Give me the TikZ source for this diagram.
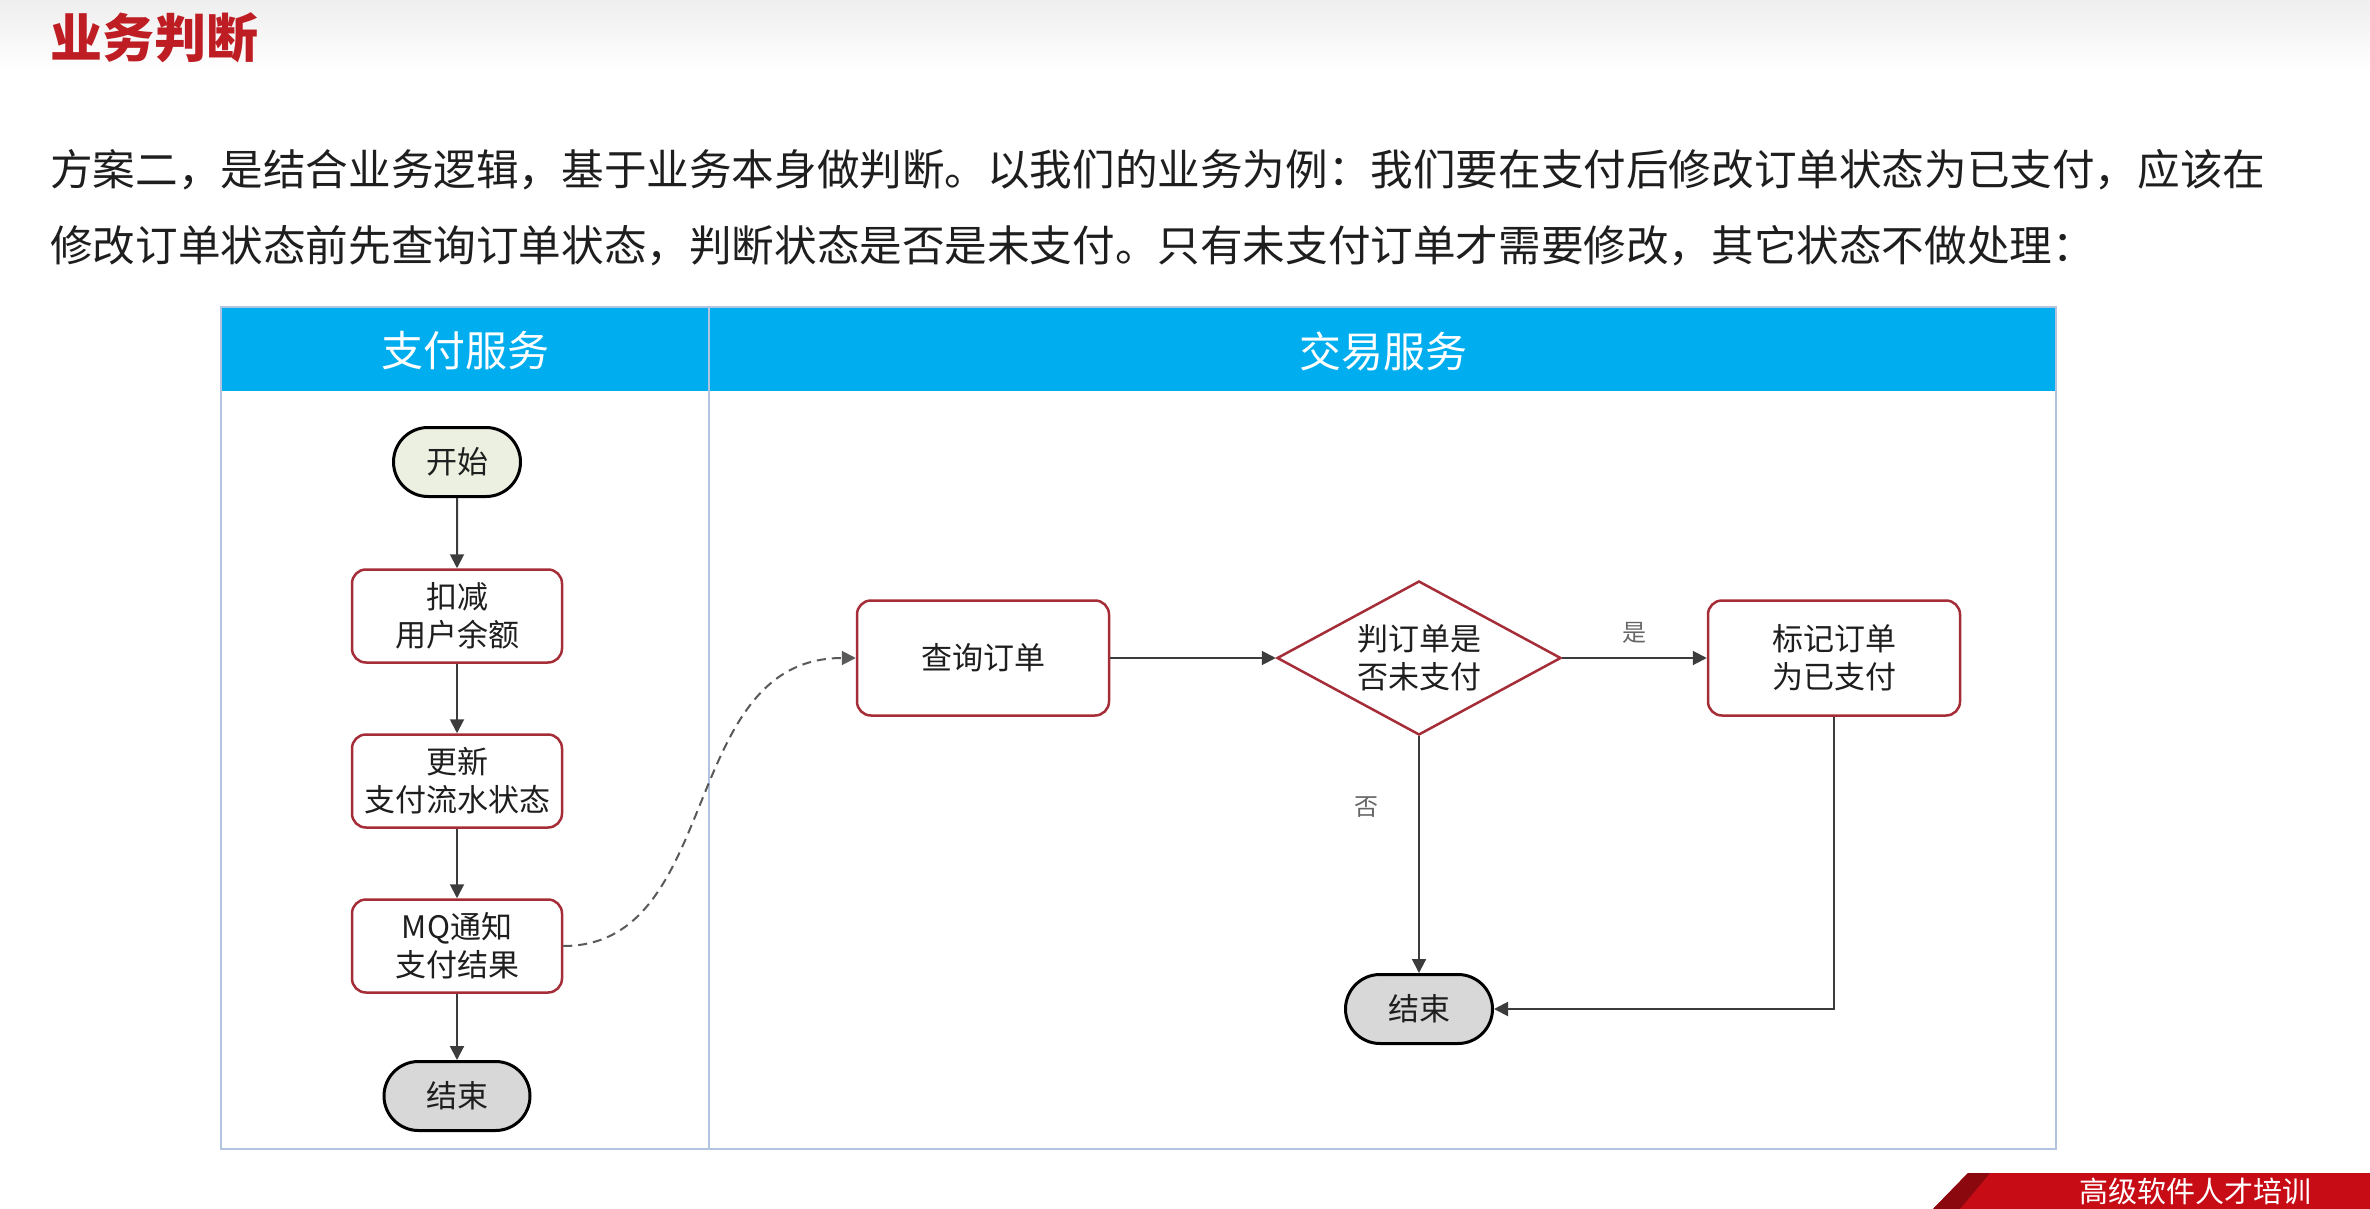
\documentclass[tikz,border=0pt]{standalone}
\usepackage{fontspec}
\setmainfont{Noto Sans CJK SC}
\usetikzlibrary{arrows.meta,shapes.geometric,shapes.misc}
\definecolor{titlered}{RGB}{190,30,35}
\definecolor{procred}{RGB}{165,45,55}
\definecolor{headblue}{RGB}{0,174,239}
\definecolor{laneborder}{RGB}{178,196,224}
\definecolor{txt}{RGB}{30,30,30}
\definecolor{linec}{RGB}{60,60,60}
\definecolor{startfill}{RGB}{236,240,224}
\definecolor{endfill}{RGB}{216,216,216}
\definecolor{bannerred}{RGB}{200,12,22}
\tikzset{
  nodefont/.style={font=\fontsize{31}{38}\selectfont, text=txt},
  procbox/.style={rectangle, draw=procred, line width=2.5pt, rounded corners=14pt, fill=white,
    minimum width=210pt, minimum height=93pt, align=center, inner sep=0pt, nodefont},
  bigbox/.style={procbox, minimum width=252pt, minimum height=115pt},
  termbox/.style={rounded rectangle, draw=black, line width=3pt, minimum height=69pt,
    inner sep=0pt, nodefont},
  decbox/.style={diamond, draw=procred, line width=2.5pt, fill=white, aspect=1.84,
    minimum width=284pt, minimum height=154pt, inner sep=0pt, align=center, nodefont},
  flow/.style={draw=linec, line width=2pt, -{Triangle[length=14pt,width=14pt]}},
  lbl/.style={font=\fontsize{24}{28}\selectfont, text=gray!80!black},
}
\begin{document}
\begin{tikzpicture}[x=1pt,y=-1pt]
\useasboundingbox (0,0) rectangle (2370,1209);
\clip (0,0) rectangle (2370,1209);
\fill[white] (0,0) rectangle (2370,1209);
\shade[top color=gray!13, bottom color=white] (0,0) rectangle (2370,72);

% title and paragraph
\node[anchor=west, inner sep=0pt, text=titlered, font=\fontsize{52}{60}\selectfont\bfseries] (title) at (50,38) {业务判断};
\node[anchor=west, inner sep=0pt, text=txt, font=\fontsize{42.6}{50}\selectfont] (p1) at (50,170)
  {方案二，是结合业务逻辑，基于业务本身做判断。以我们的业务为例：我们要在支付后修改订单状态为已支付，应该在};
\node[anchor=west, inner sep=0pt, text=txt, font=\fontsize{42.6}{50}\selectfont] (p2) at (50,246)
  {修改订单状态前先查询订单状态，判断状态是否是未支付。只有未支付订单才需要修改，其它状态不做处理：};

% swimlanes
\fill[headblue] (221,307) rectangle (2056,391);
\draw[laneborder, line width=2.5pt] (221,307) rectangle (2056,1149);
\draw[laneborder, line width=2.5pt] (709,307) -- (709,1149);
\node[text=white, font=\fontsize{42}{48}\selectfont] (h1) at (465,351) {支付服务};
\node[text=white, font=\fontsize{42}{48}\selectfont] (h2) at (1383,351) {交易服务};

% left lane
\node[termbox, fill=startfill, minimum width=127pt] (start) at (457,462) {开始};
\node[procbox] (n1) at (457,616) {扣减\\用户余额};
\node[procbox] (n2) at (457,781) {更新\\支付流水状态};
\node[procbox] (n3) at (457,946) {MQ通知\\支付结果};
\node[termbox, fill=endfill, minimum width=146pt] (end1) at (457,1096) {结束};

\draw[flow] (start) -- (n1);
\draw[flow] (n1) -- (n2);
\draw[flow] (n2) -- (n3);
\draw[flow] (n3) -- (end1);

% right lane
\node[bigbox] (q) at (983,658) {查询订单};
\node[decbox] (d) at (1419,658) {判订单是\\否未支付};
\node[bigbox] (m) at (1834,658) {标记订单\\为已支付};
\node[termbox, fill=endfill, minimum width=147pt] (end2) at (1419,1009) {结束};

\draw[flow] (q) -- (d);
\draw[flow] (d) -- node[lbl, above=10pt] (yes) {是} (m);
\draw[flow] (d) -- node[lbl, left=36pt, pos=0.3] (no) {否} (end2);
\draw[flow] (m.south) |- (end2.east);

\draw[draw=gray!70!black, line width=2pt, dash pattern=on 9pt off 6pt,
  -{Triangle[length=14pt,width=14pt]}]
  (n3.east) .. controls +(160,0) and +(-178,0) .. (q.west);

% banner bottom right
\fill[bannerred] (1968,1173) -- (2370,1173) -- (2370,1209) -- (1933,1209) -- cycle;
\fill[bannerred!70!black] (1968,1173) -- (1990,1173) -- (1960,1209) -- (1933,1209) -- cycle;
\node[text=white, font=\fontsize{29}{32}\selectfont, inner sep=0pt] (banner) at (2195,1191) {高级软件人才培训};
\end{tikzpicture}
\end{document}
